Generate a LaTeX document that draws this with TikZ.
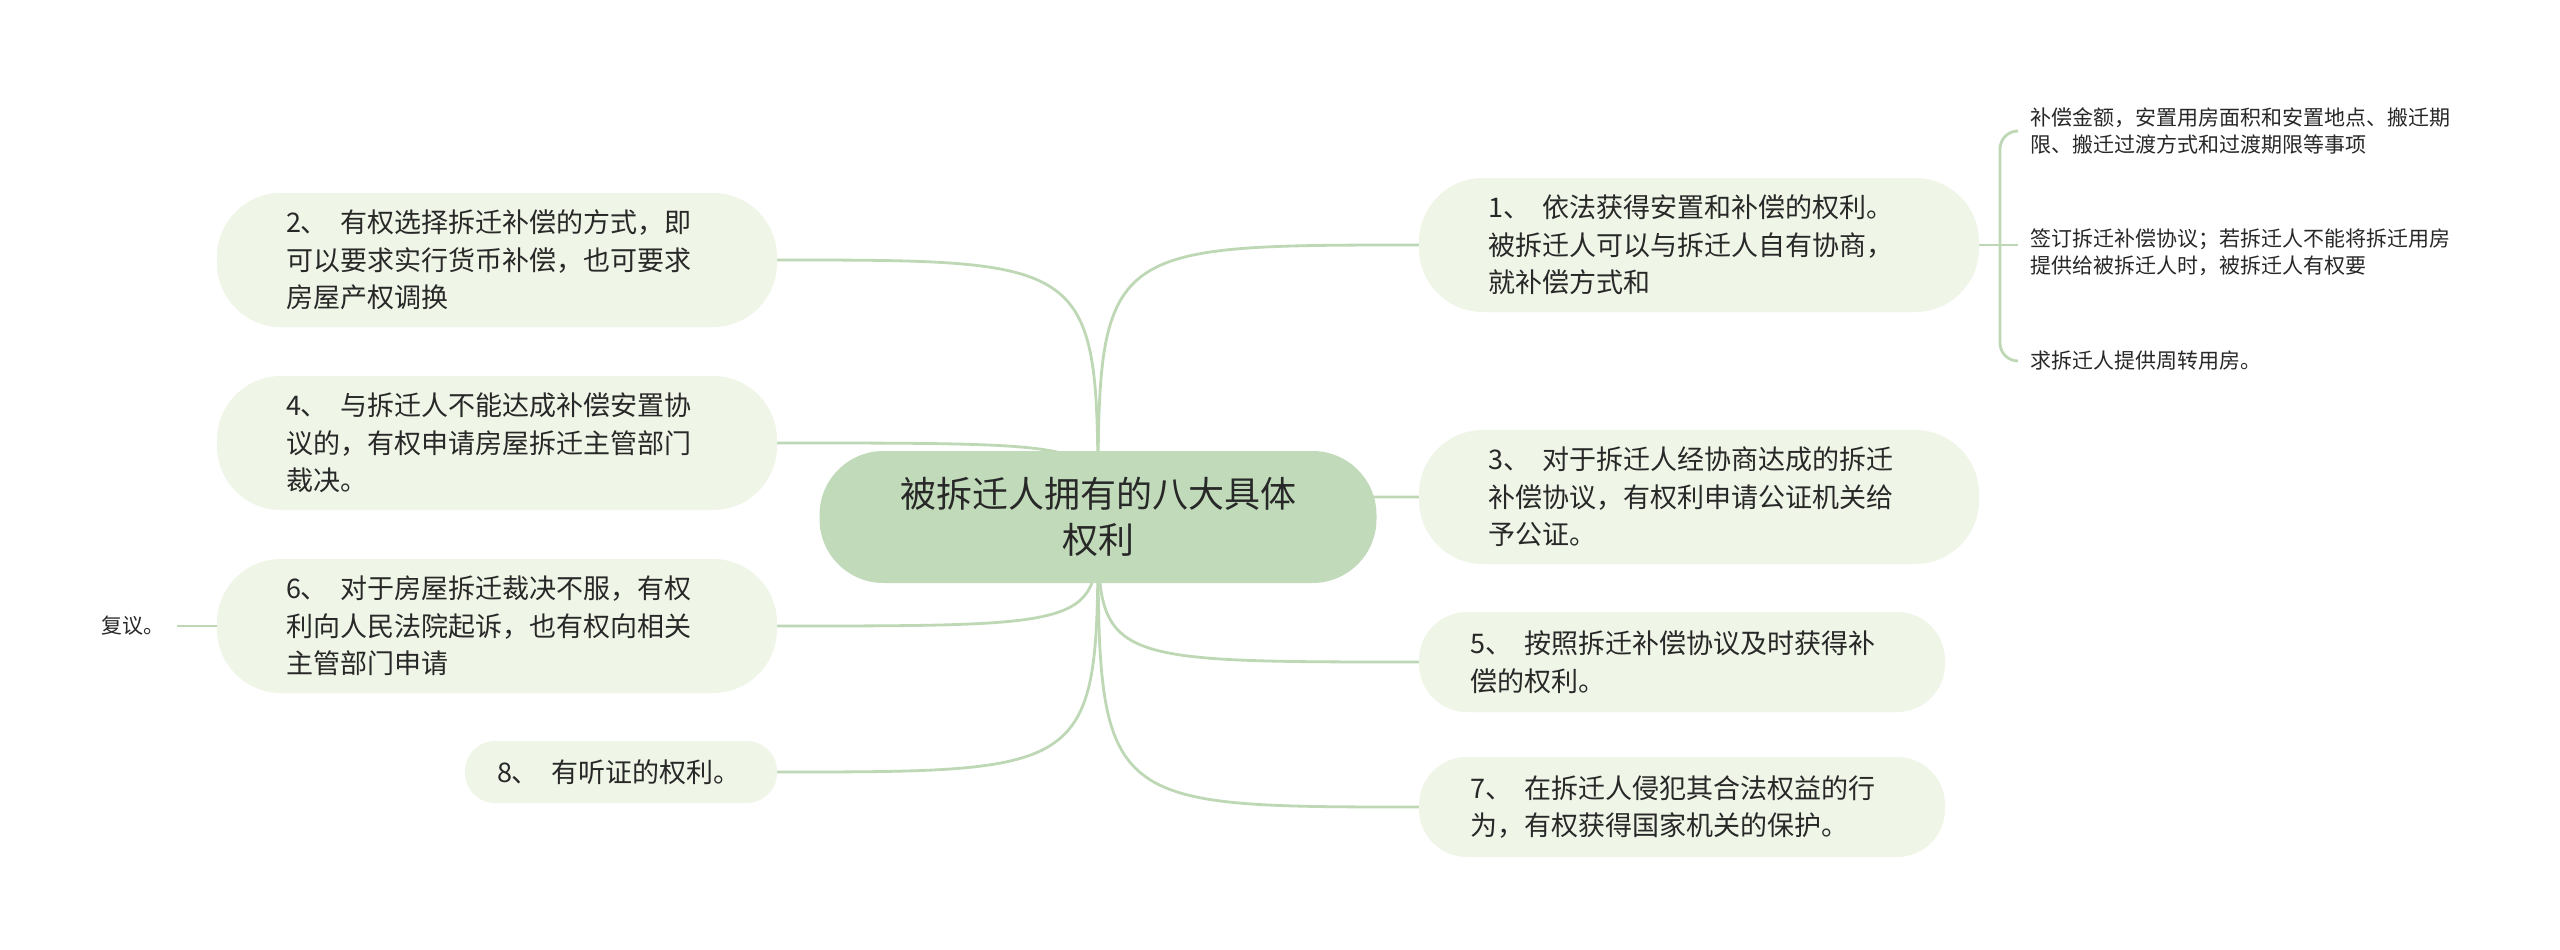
\documentclass[tikz,border=0pt]{standalone}
\usepackage{fontspec}
\usepackage{tikz}
\usetikzlibrary{backgrounds}
\newfontfamily\cjk{Noto Sans CJK SC}
\newcommand{\numgap}{\hspace{0.45em}}
\definecolor{rootcol}{RGB}{193,219,186}
\definecolor{topiccol}{RGB}{239,245,231}
\definecolor{linkcol}{RGB}{190,216,182}
\definecolor{inkcol}{RGB}{40,40,40}
\tikzset{root/.style={fill=rootcol,rounded corners=64pt,minimum width=557pt,minimum height=132pt,inner sep=0pt,align=center,text=inkcol,font=\cjk\fontsize{36}{46}\selectfont}}
\tikzset{topic/.style={fill=topiccol,rounded corners=64pt,text width=422pt,inner xsep=69pt,inner ysep=0pt,minimum height=134pt,align=left,text=inkcol,font=\cjk\fontsize{27}{37.5}\selectfont}}
\tikzset{lowtopic/.style={rounded corners=48pt,minimum height=100pt,inner xsep=51pt,text width=424pt}}
\tikzset{tinytopic/.style={rounded corners=30pt,minimum height=62pt,inner xsep=32pt,text width=248pt}}
\tikzset{leaf/.style={anchor=west,inner xsep=12pt,inner ysep=0pt,align=left,text=inkcol,font=\cjk\fontsize{21}{27}\selectfont}}
\tikzset{link/.style={draw=linkcol,line width=2.8pt}}

\begin{document}
\begin{tikzpicture}[x=1pt,y=-1pt]
\useasboundingbox (0,0) rectangle (2560,950);

\node [root] (root) at (1098,517) {被拆迁人拥有的八大具体\\权利};

\node [topic] (n1) at (1699,245) {1、\numgap 依法获得安置和补偿的权利。\\被拆迁人可以与拆迁人自有协商，\\就补偿方式和};
\node [topic] (n3) at (1699,497) {3、\numgap 对于拆迁人经协商达成的拆迁\\补偿协议，有权利申请公证机关给\\予公证。};
\node [topic,lowtopic] (n5) at (1682,662) {5、\numgap 按照拆迁补偿协议及时获得补\\偿的权利。};
\node [topic,lowtopic] (n7) at (1682,807) {7、\numgap 在拆迁人侵犯其合法权益的行\\为，有权获得国家机关的保护。};

\node [topic] (n2) at (497,260) {2、\numgap 有权选择拆迁补偿的方式，即\\可以要求实行货币补偿，也可要求\\房屋产权调换};
\node [topic] (n4) at (497,443) {4、\numgap 与拆迁人不能达成补偿安置协\\议的，有权申请房屋拆迁主管部门\\裁决。};
\node [topic] (n6) at (497,626) {6、\numgap 对于房屋拆迁裁决不服，有权\\利向人民法院起诉，也有权向相关\\主管部门申请};
\node [topic,tinytopic] (n8) at (621,772) {8、\numgap 有听证的权利。};

\node [leaf,anchor=east] (fy) at (177,626) {复议。};

\coordinate (fork) at (2000,245);
\node [leaf] (l1) at (2018,131) {补偿金额，安置用房面积和安置地点、搬迁期\\限、搬迁过渡方式和过渡期限等事项};
\node [leaf] (l2) at (2018,252) {签订拆迁补偿协议；若拆迁人不能将拆迁用房\\提供给被拆迁人时，被拆迁人有权要};
\node [leaf] (l3) at (2018,361) {求拆迁人提供周转用房。};

\begin{scope}[on background layer]
\fill [white] (0,0) rectangle (2560,950);
\draw [link] (root.center) .. controls (root.center |- n1.west) .. (n1.west);
\draw [link] (root.center) .. controls (root.center |- n3.west) .. (n3.west);
\draw [link] (root.center) .. controls (root.center |- n5.west) .. (n5.west);
\draw [link] (root.center) .. controls (root.center |- n7.west) .. (n7.west);
\draw [link] (root.center) .. controls (root.center |- n2.east) .. (n2.east);
\draw [link] (root.center) .. controls (root.center |- n4.east) .. (n4.east);
\draw [link] (root.center) .. controls (root.center |- n6.east) .. (n6.east);
\draw [link] (root.center) .. controls (root.center |- n8.east) .. (n8.east);

\draw [link] (n6.west) -- (fy.east);

\draw [link] (n1.east) -- (n1.east -| l2.west);
\draw [link,rounded corners=18pt] (fork) |- (l1.west);
\draw [link,rounded corners=18pt] (fork) |- (l3.west);
\end{scope}
\end{tikzpicture}
\end{document}
